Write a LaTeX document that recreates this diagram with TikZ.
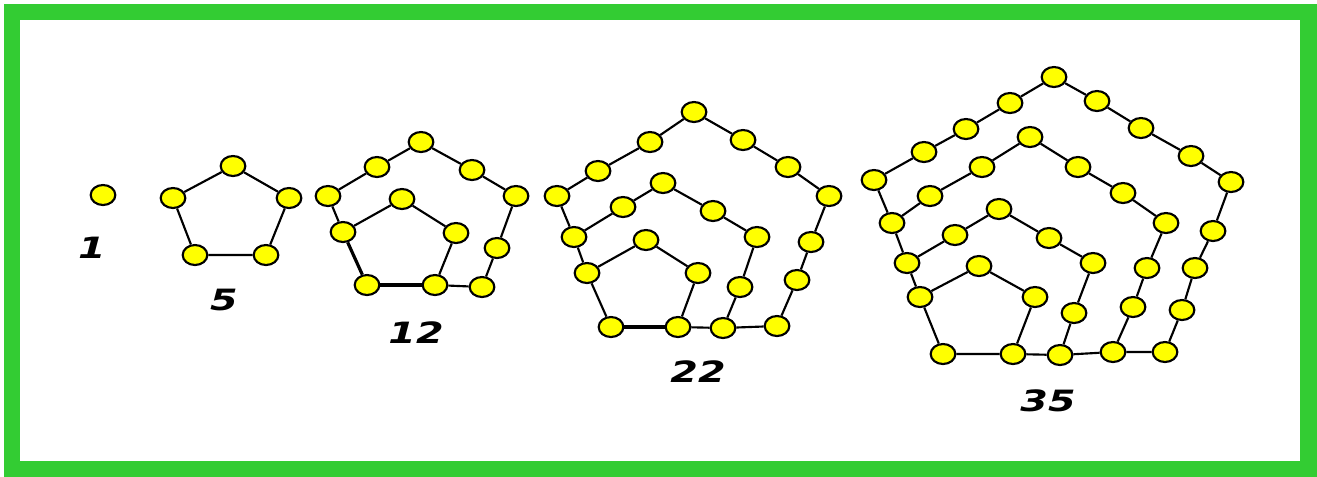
\documentclass[tikz,border=0pt]{standalone}
\usepackage{fontspec}
\usepackage{graphicx}
\usetikzlibrary{shapes.geometric}
\newfontfamily\numfont{DejaVu Sans}
\definecolor{frameGreen}{RGB}{51,204,51}
\definecolor{dotYellow}{RGB}{255,255,0}
\tikzset{
  dot/.style={ellipse, draw=black, line width=1.6pt, fill=dotYellow, minimum width=18.5pt, minimum height=15pt, inner sep=0pt},
  link/.style={draw=black, line width=1.6pt},
  thicklink/.style={draw=black, line width=3.2pt},
  numlabel/.style={inner sep=0pt, font=\numfont\bfseries\itshape\fontsize{22}{22}\selectfont}
}
\newcommand{\numtext}[1]{\scalebox{1.35}[1]{#1}}
\begin{document}
\begin{tikzpicture}[x=0.75pt,y=-0.75pt]
\useasboundingbox (0,0) rectangle (1317,476);
\fill[frameGreen] (4,4) rectangle (1318,477);
\fill[white] (20,20) rectangle (1300,461);

% ---- 1 ----
\node[dot] (a1) at (103,195) {};

% ---- 5 ----
\foreach \n/\x/\y in {b1/233/166, b2/173/198, b3/289/198, b4/195/255, b5/266/255}
  \node[dot] (\n) at (\x,\y) {};
\draw[link] (b4) -- (b2) -- (b1) -- (b3) -- (b5) -- (b4);

% ---- 12 ----
\foreach \n/\x/\y in {ctop/421/142, cul/377/167, cl/328/196, cur/472/170, cr/516/196,
  cit/402/199, cil/343/232, cir/456/233, crm/497/248, cbl/367/285, cbm/435/285, cbr/482/287}
  \node[dot] (\n) at (\x,\y) {};
\draw[link] (cl) -- (cul) -- (ctop) -- (cur) -- (cr) -- (crm) -- (cbr) -- (cbm);
\draw[link] (cl) -- (cil);
\draw[link, line width=2.4pt] (cil) -- (cbl);
\draw[thicklink] (cbl) -- (cbm);
\draw[link] (cil) -- (cit) -- (cir) -- (cbm);

% ---- 22 ----
\foreach \n/\x/\y in {dtop/694/112, dula/650/142, dulb/598/171, dl/557/196, dura/743/140, durb/788/167, dr/829/196,
  dmt/663/183, dmul/623/207, dml/574/237, dmur/713/211, dmr/757/237,
  dit/646/240, dil/587/273, dir/698/273,
  drsa/811/242, drsb/797/280, dmrs/740/287,
  dibl/611/327, dibr/678/327, dmbr/723/328, dobr/777/326}
  \node[dot] (\n) at (\x,\y) {};
\draw[link] (dl) -- (dulb) -- (dula) -- (dtop) -- (dura) -- (durb) -- (dr) -- (drsa) -- (drsb) -- (dobr) -- (dmbr);
\draw[link] (dl) -- (dml) -- (dil) -- (dibl);
\draw[link] (dml) -- (dmul) -- (dmt) -- (dmur) -- (dmr) -- (dmrs) -- (dmbr) -- (dibr);
\draw[link] (dil) -- (dit) -- (dir) -- (dibr);
\draw[thicklink] (dibl) -- (dibr);

% ---- 35 ----
\foreach \n/\x/\y in {etop/1054/77, eula/1010/103, eulb/966/129, eulc/924/152, el/874/180,
  eura/1097/101, eurb/1141/128, eurc/1191/156, er/1231/182,
  ftop/1030/137, fula/982/167, fulb/930/196, fl/892/223, fura/1078/167, furb/1123/193, fr/1166/223,
  gtop/999/209, gul/955/235, gl/907/263, gur/1049/238, gr/1093/263,
  htop/979/266, hl/920/297, hr/1035/297,
  ersa/1213/231, ersb/1195/268, ersc/1182/310, ebr/1165/352,
  frsa/1147/268, frsb/1133/307, fbr/1113/352,
  grsa/1074/313, gbr/1060/355,
  hbr/1013/354, hbl/943/354}
  \node[dot] (\n) at (\x,\y) {};
\draw[link] (el) -- (eulc) -- (eulb) -- (eula) -- (etop) -- (eura) -- (eurb) -- (eurc) -- (er)
  -- (ersa) -- (ersb) -- (ersc) -- (ebr) -- (fbr);
\draw[link] (fl) -- (fulb) -- (fula) -- (ftop) -- (fura) -- (furb) -- (fr) -- (frsa) -- (frsb) -- (fbr) -- (gbr);
\draw[link] (gl) -- (gul) -- (gtop) -- (gur) -- (gr) -- (grsa) -- (gbr) -- (hbr);
\draw[link] (hl) -- (htop) -- (hr) -- (hbr) -- (hbl);
\draw[link] (el) -- (fl) -- (gl) -- (hl) -- (hbl);

% ---- labels ----
\node[numlabel] (l1) at (92,248) {\numtext{1}};
\node[numlabel] (l5) at (224,300) {\numtext{5}};
\node[numlabel] (l12) at (416,333) {\numtext{12}};
\node[numlabel] (l22) at (698,372) {\numtext{22}};
\node[numlabel] (l35) at (1048,401) {\numtext{35}};
\end{tikzpicture}
\end{document}
